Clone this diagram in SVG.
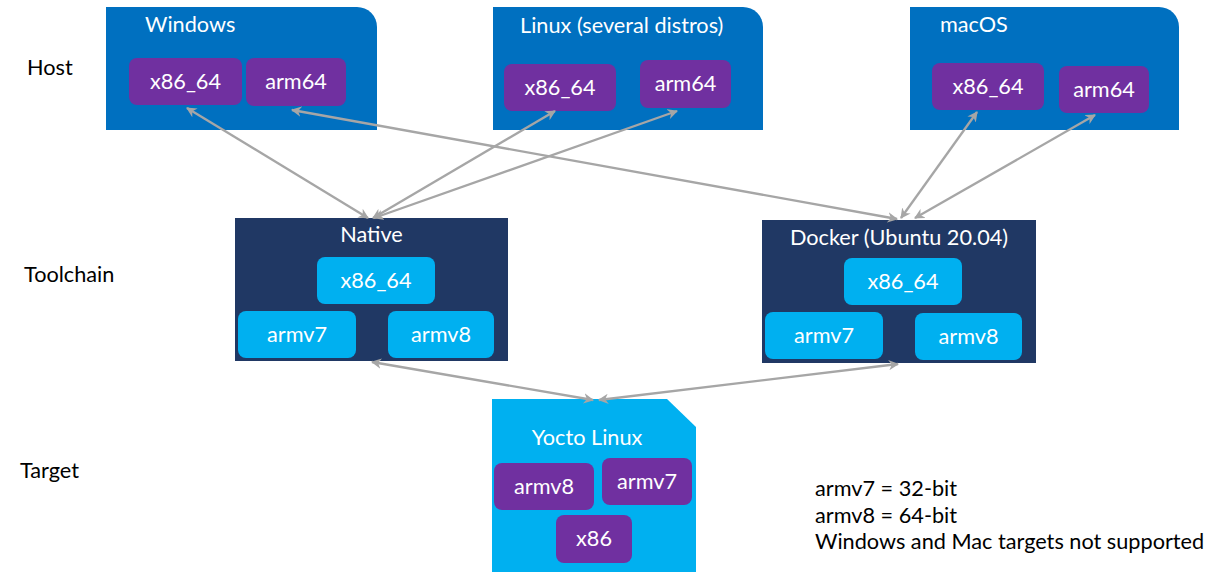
<svg xmlns="http://www.w3.org/2000/svg" width="1221" height="572" viewBox="0 0 1221 572">
<defs>
<marker id="ah" viewBox="0 0 10 10" refX="9" refY="5" markerWidth="4.5" markerHeight="4.5" orient="auto-start-reverse" markerUnits="strokeWidth">
<path d="M0,0 L10,5 L0,10 L3,5 z" fill="#a6a6a6"/>
</marker>
</defs>
<style>
text{font-family:Lato,"Open Sans","Liberation Sans",sans-serif;font-size:21.7px}
.w{fill:#ffffff}
.k{fill:#000000}
.m{text-anchor:middle}
.host{fill:#0070c0}
.pur{fill:#7030a0}
.navy{fill:#203864}
.lb{fill:#00b0f0}
.c{stroke:#a6a6a6;stroke-width:2.3;fill:none;marker-start:url(#ah);marker-end:url(#ah)}
</style>
<rect width="1221" height="572" fill="#ffffff"/>
<g id="labels">
<text class="k" x="27" y="75">Host</text>
<text class="k" x="24" y="282">Toolchain</text>
<text class="k" x="20" y="478">Target</text>
</g>
<g id="windows">
<path class="host" d="M106,7 H357 A20,20 0 0 1 377,27 V130 H106 Z"/>
<text class="w" x="145" y="32">Windows</text>
<rect class="pur" x="129" y="58" width="113" height="47" rx="8"/>
<text class="w m" x="185.5" y="89">x86_64</text>
<rect class="pur" x="246" y="58" width="100" height="48" rx="8"/>
<text class="w m" x="296" y="89">arm64</text>
</g>
<g id="linux">
<path class="host" d="M493,7 H743 A20,20 0 0 1 763,27 V130 H493 Z"/>
<text class="w" x="520" y="33">Linux (several distros)</text>
<rect class="pur" x="504" y="64" width="112" height="47" rx="8"/>
<text class="w m" x="560" y="95">x86_64</text>
<rect class="pur" x="640" y="60" width="91" height="48" rx="8"/>
<text class="w m" x="685.5" y="91">arm64</text>
</g>
<g id="macos">
<path class="host" d="M910,7 H1159 A20,20 0 0 1 1179,27 V130 H910 Z"/>
<text class="w" x="940" y="32">macOS</text>
<rect class="pur" x="932" y="63" width="112" height="47" rx="8"/>
<text class="w m" x="988" y="94">x86_64</text>
<rect class="pur" x="1059" y="66" width="90" height="47" rx="8"/>
<text class="w m" x="1104" y="97">arm64</text>
</g>
<g id="native">
<rect class="navy" x="235" y="218" width="273" height="143"/>
<text class="w m" x="371.5" y="242">Native</text>
<rect class="lb" x="317" y="257" width="118" height="47" rx="8"/>
<text class="w m" x="376" y="288">x86_64</text>
<rect class="lb" x="238" y="311" width="118" height="47" rx="8"/>
<text class="w m" x="297" y="342">armv7</text>
<rect class="lb" x="388" y="311" width="106" height="47" rx="8"/>
<text class="w m" x="441" y="342">armv8</text>
</g>
<g id="docker">
<rect class="navy" x="762" y="220" width="274" height="143"/>
<text class="w m" x="899" y="245">Docker (Ubuntu 20.04)</text>
<rect class="lb" x="844" y="258" width="118" height="47" rx="8"/>
<text class="w m" x="903" y="289">x86_64</text>
<rect class="lb" x="765" y="312" width="118" height="47" rx="8"/>
<text class="w m" x="824" y="343">armv7</text>
<rect class="lb" x="915" y="313" width="107" height="47" rx="8"/>
<text class="w m" x="968.5" y="344">armv8</text>
</g>
<g id="yocto">
<path class="lb" d="M492,399 H667 L696,427 V572 H492 Z"/>
<text class="w m" x="587" y="445">Yocto Linux</text>
<rect class="pur" x="494" y="463" width="100" height="47" rx="8"/>
<text class="w m" x="544" y="494">armv8</text>
<rect class="pur" x="602" y="458" width="90" height="47" rx="8"/>
<text class="w m" x="647" y="489">armv7</text>
<rect class="pur" x="556" y="515" width="76" height="48" rx="8"/>
<text class="w m" x="594" y="546">x86</text>
</g>
<g id="notes">
<text class="k" x="815" y="496">armv7 = 32-bit</text>
<text class="k" x="815" y="523">armv8 = 64-bit</text>
<text class="k" x="815" y="549">Windows and Mac targets not supported</text>
</g>
<g id="connectors">
<line class="c" x1="187" y1="108" x2="368" y2="218"/>
<line class="c" x1="292" y1="110" x2="897" y2="219"/>
<line class="c" x1="555" y1="111" x2="373" y2="218"/>
<line class="c" x1="677" y1="111" x2="374" y2="218"/>
<line class="c" x1="977" y1="112" x2="901" y2="218"/>
<line class="c" x1="1095" y1="115" x2="915" y2="218"/>
<line class="c" x1="372" y1="362" x2="593" y2="400"/>
<line class="c" x1="898" y1="364" x2="599" y2="400"/>
</g>
</svg>
